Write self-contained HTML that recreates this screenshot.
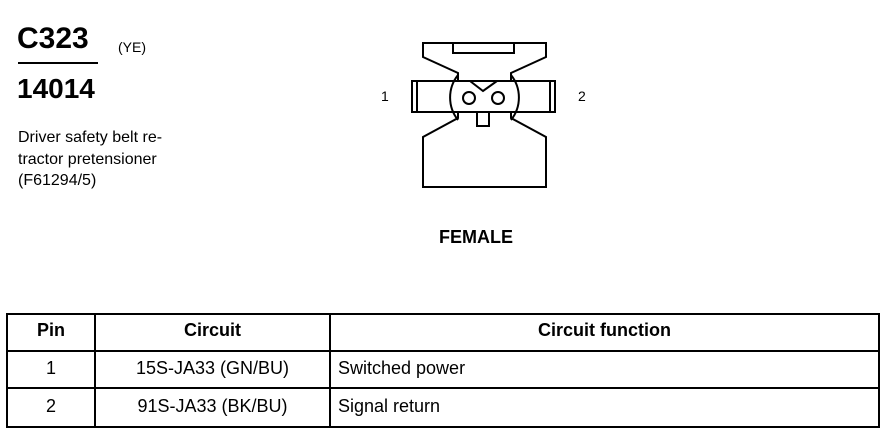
<!DOCTYPE html>
<html><head><style>
body{margin:0;width:890px;height:448px;background:#fff;position:relative;font-family:"Liberation Sans",Arial,sans-serif;color:#000;overflow:hidden}
.a{position:absolute;white-space:nowrap}
</style></head><body>
<div class="a" style="left:17px;top:22px;font-size:30px;font-weight:bold">C323</div>
<div class="a" style="left:118px;top:39px;font-size:14px">(YE)</div>
<div class="a" style="left:18px;top:62px;width:80px;height:2px;background:#000"></div>
<div class="a" style="left:17px;top:73px;font-size:28px;font-weight:bold">14014</div>
<div class="a" style="left:18px;top:127px;font-size:16px;line-height:21.5px">Driver safety belt re-<br>tractor pretensioner<br>(F61294/5)</div>
<div class="a" style="left:381px;top:88px;font-size:14px">1</div>
<div class="a" style="left:578px;top:88px;font-size:14px">2</div>
<div class="a" style="left:439px;top:227px;font-size:18px;font-weight:bold">FEMALE</div>
<svg class="a" style="left:0;top:0" width="890" height="448">
<g fill="none" stroke="#000" stroke-width="2">
<path d="M458,81 L458,73 L423,57 L423,43 L546,43 L546,57 L511,73 L511,81"/>
<rect x="453" y="43" width="61" height="10"/>
<path d="M458,112 L458,118 L423,137 L423,187 L546,187 L546,137 L511,118 L511,112"/>
<rect x="412" y="81" width="143" height="31" fill="#fff"/>
<line x1="417" y1="82" x2="417" y2="111"/>
<line x1="550" y1="82" x2="550" y2="111"/>
<path d="M458,75 A36,36 0 0 0 458,120"/>
<path d="M511,75 A36,36 0 0 1 511,120"/>
<path d="M470,81 L483,91 L497,81"/>
<path d="M477,112 L477,126 L489,126 L489,112"/>
<circle cx="469" cy="98" r="6"/>
<circle cx="498" cy="98" r="6"/>
</g>
<g stroke="#000" stroke-width="2" fill="none">
<rect x="7" y="314" width="872" height="113"/>
<line x1="7" y1="351" x2="879" y2="351"/>
<line x1="7" y1="388" x2="879" y2="388"/>
<line x1="95" y1="314" x2="95" y2="427"/>
<line x1="330" y1="314" x2="330" y2="427"/>
</g>
</svg>
<div class="a" style="left:7px;width:88px;top:320px;text-align:center;font-size:18px;font-weight:bold">Pin</div>
<div class="a" style="left:95px;width:235px;top:320px;text-align:center;font-size:18px;font-weight:bold">Circuit</div>
<div class="a" style="left:330px;width:549px;top:320px;text-align:center;font-size:18px;font-weight:bold">Circuit function</div>
<div class="a" style="left:7px;width:88px;top:358px;text-align:center;font-size:18px">1</div>
<div class="a" style="left:95px;width:235px;top:358px;text-align:center;font-size:18px">15S-JA33 (GN/BU)</div>
<div class="a" style="left:338px;top:358px;font-size:18px">Switched power</div>
<div class="a" style="left:7px;width:88px;top:396px;text-align:center;font-size:18px">2</div>
<div class="a" style="left:95px;width:235px;top:396px;text-align:center;font-size:18px">91S-JA33 (BK/BU)</div>
<div class="a" style="left:338px;top:396px;font-size:18px">Signal return</div>
</body></html>
